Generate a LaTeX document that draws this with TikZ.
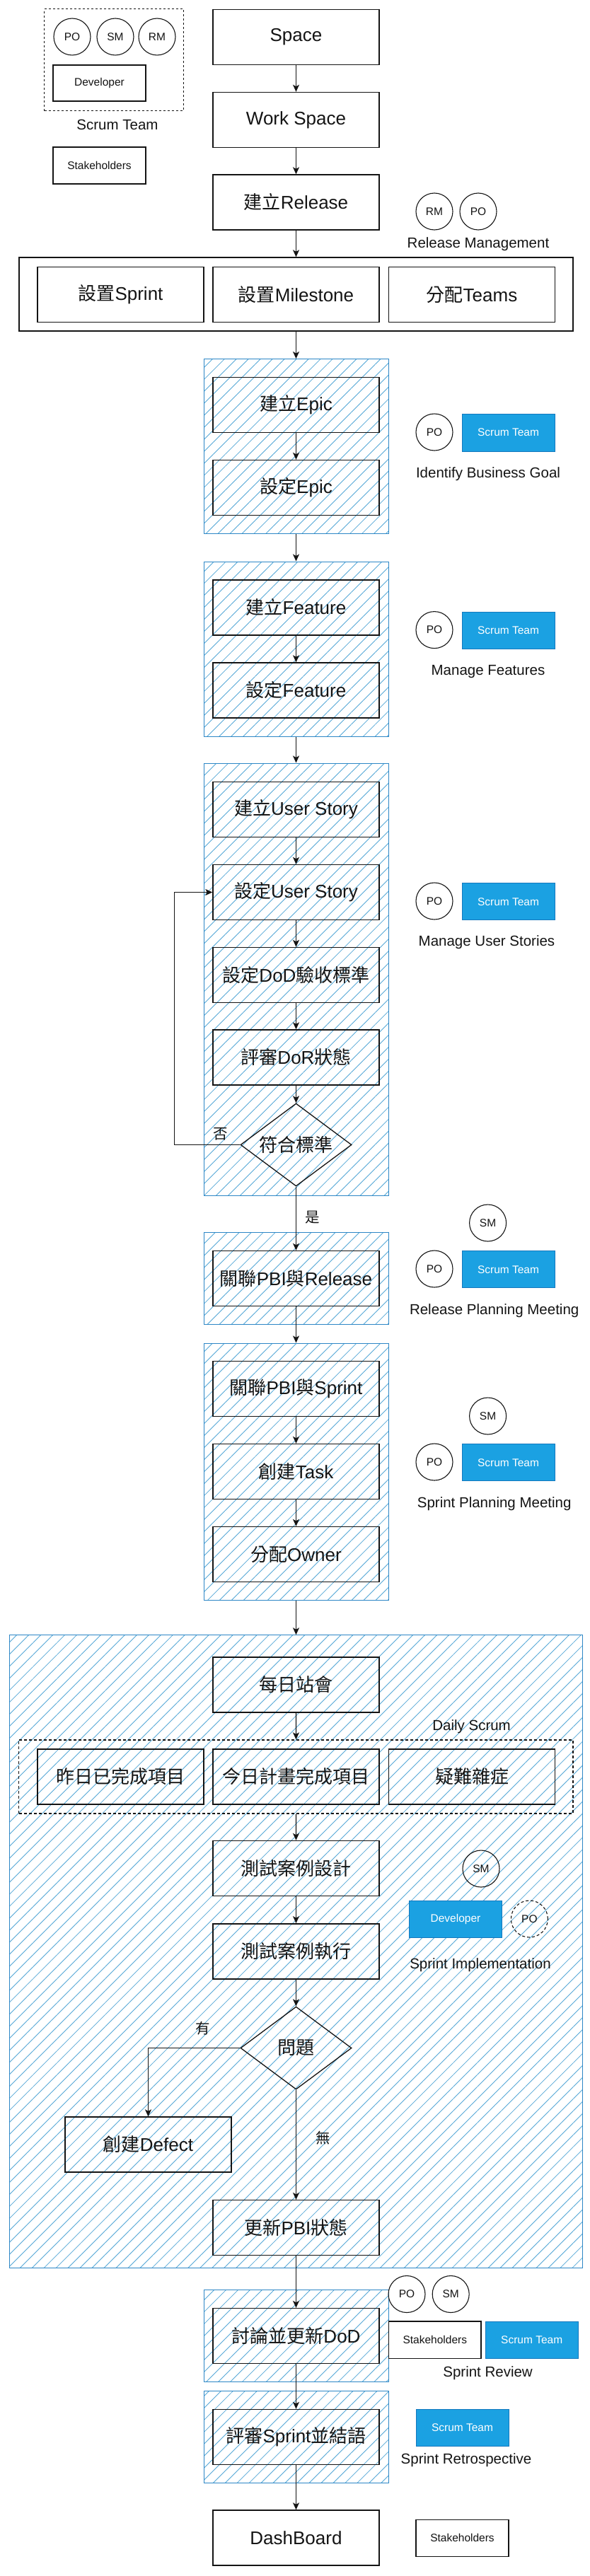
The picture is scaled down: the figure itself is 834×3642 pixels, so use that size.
\documentclass[tikz,border=0pt]{standalone}
\usepackage{fontspec}
\setmainfont{Liberation Sans}
\newfontfamily\cjk{Noto Sans CJK TC}
\usetikzlibrary{shapes.geometric,arrows.meta,patterns.meta}
\definecolor{hatchc}{RGB}{85,168,215}
\definecolor{hborder}{RGB}{45,135,198}
\definecolor{stblue}{RGB}{27,161,226}
\definecolor{stborder}{RGB}{20,120,190}
\definecolor{ink}{RGB}{20,20,20}
\newcommand{\zh}[1]{{\cjk #1}}
\tikzset{
 box/.style={draw=ink, line width=1.4pt, minimum width=235pt, minimum height=78pt, inner sep=0pt, font=\fontsize{26pt}{30pt}\selectfont, text=ink},
 hbox/.style={draw=hborder, line width=1pt, pattern={Lines[distance=12pt,angle=45,line width=0.85pt]}, pattern color=hatchc, inner sep=0pt},
 role/.style={circle, draw=ink, line width=1.1pt, minimum size=52pt, inner sep=0pt, font=\fontsize{15.5pt}{18pt}\selectfont, text=ink},
 teambox/.style={fill=stblue, draw=stborder, line width=1pt, minimum width=131pt, minimum height=52pt, inner sep=0pt, text=white, font=\fontsize{15.5pt}{18pt}\selectfont},
 smallbox/.style={draw=ink, line width=1.1pt, minimum width=131pt, minimum height=52pt, inner sep=0pt, font=\fontsize{15.5pt}{18pt}\selectfont, text=ink},
 lbl/.style={font=\fontsize{20.5pt}{24pt}\selectfont, text=ink, inner sep=0pt},
 arr/.style={draw=ink, line width=1.2pt, -{Stealth[length=10pt,width=9pt,inset=2.5pt]}},
 dec/.style={diamond, draw=ink, line width=1.3pt, minimum width=157pt, minimum height=117pt, inner sep=0pt, aspect=1.34, font=\fontsize{26pt}{30pt}\selectfont, text=ink},
}
\begin{document}
\begin{tikzpicture}[x=1pt,y=-1pt]
\fill[white] (0,0) rectangle (834,3642);
\useasboundingbox (0,0) rectangle (834,3642);

% ---- legend (top left)
\node[draw=ink, dashed, dash pattern=on 3pt off 3pt, line width=1pt, minimum width=196.5pt, minimum height=144pt, inner sep=0pt] (legend) at (160.75,85) {};
\node[role] (lgPO) at (102,52) {PO};
\node[role] (lgSM) at (163,52) {SM};
\node[role] (lgRM) at (222,52) {RM};
\node[smallbox, minimum height=51pt] (lgDev) at (140.5,117.5) {Developer};
\node[lbl] (lgLbl) at (166,176) {Scrum Team};
\node[smallbox] (lgStake) at (140.5,234) {Stakeholders};

% ---- hatched containers
\node[hbox, minimum width=261pt, minimum height=247pt] (epicC) at (418.5,631) {};
\node[hbox, minimum width=261pt, minimum height=247pt] (featC) at (418.5,917.5) {};
\node[hbox, minimum width=261pt, minimum height=611.5pt] (usC) at (418.5,1384.75) {};
\node[hbox, minimum width=261pt, minimum height=130pt] (relC) at (418.5,1807.5) {};
\node[hbox, minimum width=261pt, minimum height=363.5pt] (spC) at (418.5,2080.75) {};
\node[hbox, minimum width=809.5pt, minimum height=894.5pt] (bigC) at (418.5,2759) {};
\node[hbox, minimum width=261pt, minimum height=130pt] (revC) at (418.5,3302.5) {};
\node[hbox, minimum width=261pt, minimum height=130pt] (retC) at (418.5,3445.4) {};

% ---- main column
\node[box] (space) at (418.5,52.5) {Space};
\node[box] (ws) at (418.5,169.5) {Work Space};
\node[box] (rel) at (418.5,286) {\zh{建立}Release};
\node[role] (rmRM) at (614,299) {RM};
\node[role] (rmPO) at (676,299) {PO};
\node[lbl] (rmLbl) at (676,345) {Release Management};

\node[draw=ink, line width=1.4pt, minimum width=783pt, minimum height=104pt, inner sep=0pt] (topC) at (418.5,416) {};
\node[box] (sp) at (170.5,416.5) {\zh{設置}Sprint};
\node[box] (ms) at (418.5,416.5) {\zh{設置}Milestone};
\node[box] (tm) at (667,416.5) {\zh{分配}Teams};

\node[box] (e1) at (418.5,572.5) {\zh{建立}Epic};
\node[box] (e2) at (418.5,689.5) {\zh{設定}Epic};
\node[role] (ePO) at (614,611) {PO};
\node[teambox, minimum height=53pt] (eST) at (718.5,611.5) {Scrum Team};
\node[lbl] (eLbl) at (690,670) {Identify Business Goal};

\node[box] (f1) at (418.5,859) {\zh{建立}Feature};
\node[box] (f2) at (418.5,976) {\zh{設定}Feature};
\node[role] (fPO) at (614,890.6) {PO};
\node[teambox] (fST) at (718.5,891) {Scrum Team};
\node[lbl] (fLbl) at (690,950) {Manage Features};

\node[box] (u1) at (418.5,1144.5) {\zh{建立}User Story};
\node[box] (u2) at (418.5,1261.5) {\zh{設定}User Story};
\node[box] (u3) at (418.5,1378.5) {\zh{設定}DoD\zh{驗收標準}};
\node[box] (u4) at (418.5,1495) {\zh{評審}DoR\zh{狀態}};
\node[dec] (d1) at (418.5,1618.5) {\zh{符合標準}};
\node[role] (uPO) at (614,1274) {PO};
\node[teambox] (uST) at (718.5,1274.7) {Scrum Team};
\node[lbl] (uLbl) at (688,1332.6) {Manage User Stories};
\node[lbl] (noLbl) at (312,1603) {\zh{否}};
\node[lbl] (yesLbl) at (442,1721) {\zh{是}};

\node[box] (r1) at (418.5,1807.5) {\zh{關聯}PBI\zh{與}Release};
\node[role] (rSM) at (689.6,1729) {SM};
\node[role] (rPO) at (614,1794) {PO};
\node[teambox] (rST) at (718.5,1794.8) {Scrum Team};
\node[lbl] (rLbl) at (698.7,1853) {Release Planning Meeting};

\node[box] (s1) at (418.5,1963.5) {\zh{關聯}PBI\zh{與}Sprint};
\node[box] (s2) at (418.5,2080.5) {\zh{創建}Task};
\node[box] (s3) at (418.5,2197.5) {\zh{分配}Owner};
\node[role] (sSM) at (689.6,2002) {SM};
\node[role] (sPO) at (614,2067) {PO};
\node[teambox] (sST) at (718.5,2067.8) {Scrum Team};
\node[lbl] (sLbl) at (698.7,2126) {Sprint Planning Meeting};

% ---- sprint implementation
\node[box] (b1) at (418.5,2382) {\zh{每日站會}};
\node[lbl] (dsLbl) at (666.6,2441.4) {Daily Scrum};
\node[draw=ink, dashed, dash pattern=on 4pt off 3pt, line width=1.2pt, minimum width=783.3pt, minimum height=104pt, inner sep=0pt] (ds) at (418.4,2511.9) {};
\node[box] (y1) at (170.5,2512) {\zh{昨日已完成項目}};
\node[box] (y2) at (418.5,2512) {\zh{今日計畫完成項目}};
\node[box] (y3) at (667,2512) {\zh{疑難雜症}};
\node[box] (t1) at (418.5,2641.5) {\zh{測試案例設計}};
\node[box] (t2) at (418.5,2758.8) {\zh{測試案例執行}};
\node[dec] (d2) at (418.5,2895.5) {\zh{問題}};
\node[lbl] (hasLbl) at (287,2868) {\zh{有}};
\node[lbl] (noneLbl) at (457,3023) {\zh{無}};
\node[box] (defect) at (209.5,3032) {\zh{創建}Defect};
\node[box] (upd) at (418.5,3149.6) {\zh{更新}PBI\zh{狀態}};
\node[role] (iSM) at (680,2642) {SM};
\node[teambox, minimum height=52.4pt] (iDev) at (644,2713.2) {Developer};
\node[role, dashed, dash pattern=on 4pt off 3pt] (iPO) at (748.4,2713) {PO};
\node[lbl] (iLbl) at (679,2778) {Sprint Implementation};

% ---- review / retrospective / dashboard
\node[box] (rv) at (418.5,3302.5) {\zh{討論並更新}DoD};
\node[role] (vPO) at (575,3243.5) {PO};
\node[role] (vSM) at (637.2,3243.5) {SM};
\node[smallbox, minimum width=130.4pt, minimum height=52.4pt] (vStake) at (614.8,3308.2) {Stakeholders};
\node[teambox, minimum height=52.4pt] (vST) at (751.7,3308.2) {Scrum Team};
\node[lbl] (vLbl) at (689.6,3355) {Sprint Review};

\node[box] (rt) at (418.5,3445.5) {\zh{評審}Sprint\zh{並結語}};
\node[teambox] (tST) at (653.5,3432.5) {Scrum Team};
\node[lbl] (tLbl) at (659,3478) {Sprint Retrospective};

\node[box] (dash) at (418.5,3588) {DashBoard};
\node[smallbox] (dStake) at (653.5,3588.3) {Stakeholders};

% ---- connectors
\draw[arr] (space) -- (ws);
\draw[arr] (ws) -- (rel);
\draw[arr] (rel) -- (topC);
\draw[arr] (topC) -- (epicC);
\draw[arr] (e1) -- (e2);
\draw[arr] (epicC) -- (featC);
\draw[arr] (f1) -- (f2);
\draw[arr] (featC) -- (usC);
\draw[arr] (u1) -- (u2);
\draw[arr] (u2) -- (u3);
\draw[arr] (u3) -- (u4);
\draw[arr] (u4) -- (d1);
\draw[arr] (d1.west) -- ++(-92.5,0) |- (u2.west);
\draw[arr] (d1.south) -- (r1.north);
\draw[arr] (r1.south) -- (spC.north);
\draw[arr] (s1) -- (s2);
\draw[arr] (s2) -- (s3);
\draw[arr] (spC.south) -- (bigC.north);
\draw[arr] (b1) -- (ds);
\draw[arr] (ds) -- (t1);
\draw[arr] (t1) -- (t2);
\draw[arr] (t2) -- (d2);
\draw[arr] (d2.west) -| (defect.north);
\draw[arr] (d2.south) -- (upd.north);
\draw[arr] (upd.south) -- (rv.north);
\draw[arr] (rv) -- (rt);
\draw[arr] (rt) -- (dash);
\end{tikzpicture}
\end{document}
